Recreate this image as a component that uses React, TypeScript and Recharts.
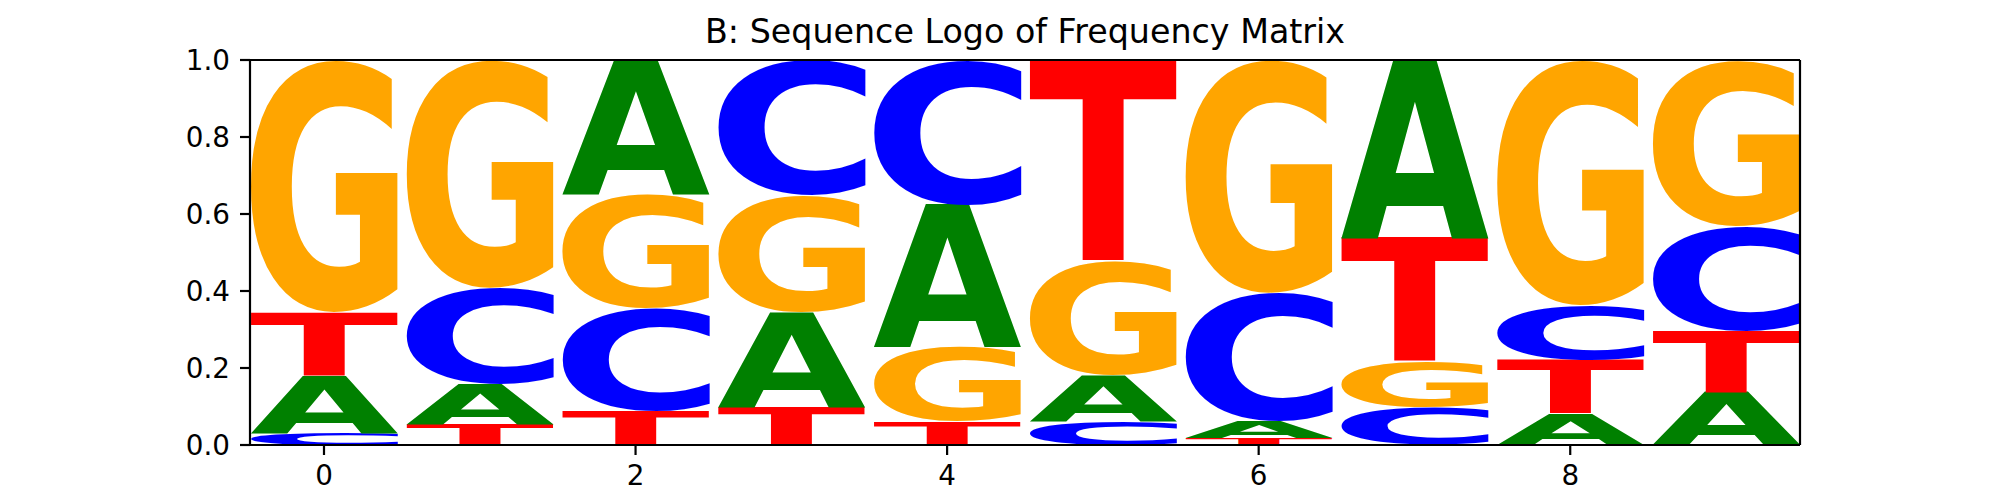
import { BarChart, Bar, XAxis, YAxis, ReferenceLine } from 'recharts';

const positions = [0, 1, 2, 3, 4, 5, 6, 7, 8, 9];
const freqA = [0.15, 0.104, 0.351, 0.247, 0.371, 0.119, 0.044, 0.462, 0.082, 0.137];
const freqC = [0.03, 0.249, 0.266, 0.351, 0.375, 0.063, 0.334, 0.098, 0.142, 0.272];
const freqG = [0.655, 0.592, 0.295, 0.304, 0.192, 0.295, 0.605, 0.117, 0.637, 0.431];
const freqT = [0.165, 0.055, 0.088, 0.098, 0.062, 0.523, 0.017, 0.323, 0.139, 0.16];
const xTicks = [0, 2, 4, 6, 8];
const yTicks = [0, 0.2, 0.4, 0.6, 0.8, 1.0];
const xDomain = [-0.475, 9.475];

const letterColors: Record<string, string> = { A: '#008000', C: '#0000ff', G: '#ffa500', T: '#ff0000' };
const FONT = '"DejaVu Sans", sans-serif';
const frame = { stroke: '#000', strokeWidth: 2.2 };

// smallest letter at the bottom, like logomaker
const data = positions.map((pos, i) => {
  const items = [
    { l: 'A', v: freqA[i] },
    { l: 'C', v: freqC[i] },
    { l: 'G', v: freqG[i] },
    { l: 'T', v: freqT[i] },
  ].sort((a, b) => a.v - b.v);
  const row: any = { pos, letters: items.map((d) => d.l) };
  items.forEach((d, r) => (row['r' + r] = d.v));
  return row;
});

// ink box of each glyph, so it can be stretched to fill its slot
const metricCache: Record<string, { l: number; r: number; a: number; d: number }> = {};
function glyphBox(ch: string) {
  if (!metricCache[ch]) {
    const ctx = document.createElement('canvas').getContext('2d')!;
    ctx.font = `bold 200px ${FONT}`;
    const m = ctx.measureText(ch);
    metricCache[ch] = { l: m.actualBoundingBoxLeft, r: m.actualBoundingBoxRight, a: m.actualBoundingBoxAscent, d: m.actualBoundingBoxDescent };
  }
  return metricCache[ch];
}

function Letter(props: any) {
  const { x, y, width, height, letter } = props;
  if (!letter || !height || height <= 0 || !width) return null;
  const m = glyphBox(letter);
  const sx = width / (m.l + m.r);
  const sy = height / (m.a + m.d);
  return (
    <text
      x={0}
      y={0}
      fontFamily={FONT}
      fontWeight="bold"
      fontSize={200}
      fill={letterColors[letter]}
      transform={`translate(${x} ${y}) scale(${sx} ${sy}) translate(${m.l} ${m.a})`}
    >
      {letter}
    </text>
  );
}

export default function App() {
  return (
    <div style={{ position: 'absolute', left: 0, top: 0, width: 2000, height: 500, background: '#fff' }}>
      <BarChart
        width={2000}
        height={500}
        data={data}
        margin={{ top: 60, right: 200, bottom: 0, left: 0 }}
        barCategoryGap="2.5%"
      >
        <XAxis
          dataKey="pos"
          type="number"
          domain={xDomain}
          allowDataOverflow
          ticks={xTicks}
          height={55}
          tickSize={10}
          tickMargin={10}
          axisLine={frame}
          tickLine={frame}
          tick={{ fill: '#000', fontSize: 27.8, fontFamily: FONT }}
        />
        <YAxis
          width={250}
          domain={[0, 1]}
          allowDataOverflow
          ticks={yTicks}
          tickFormatter={(v: number) => v.toFixed(1)}
          tickSize={10}
          tickMargin={10}
          axisLine={frame}
          tickLine={frame}
          tick={{ fill: '#000', fontSize: 27.8, fontFamily: FONT }}
        />
        {[0, 1, 2, 3].map((r) => (
          <Bar
            key={r}
            dataKey={'r' + r}
            stackId="logo"
            isAnimationActive={false}
            shape={(p: any) => <Letter {...p} letter={p.payload.letters[r]} />}
          />
        ))}
        <ReferenceLine y={1} stroke="#000" strokeWidth={2.2} ifOverflow="visible" />
        <ReferenceLine x={xDomain[1]} stroke="#000" strokeWidth={2.2} ifOverflow="visible" />
      </BarChart>
      <svg width={2000} height={60} style={{ position: 'absolute', left: 0, top: 0 }}>
        <text x={1025} y={43.3} textAnchor="middle" fontFamily={FONT} fontSize={33.3} fill="#000">
          B: Sequence Logo of Frequency Matrix
        </text>
      </svg>
    </div>
  );
}
